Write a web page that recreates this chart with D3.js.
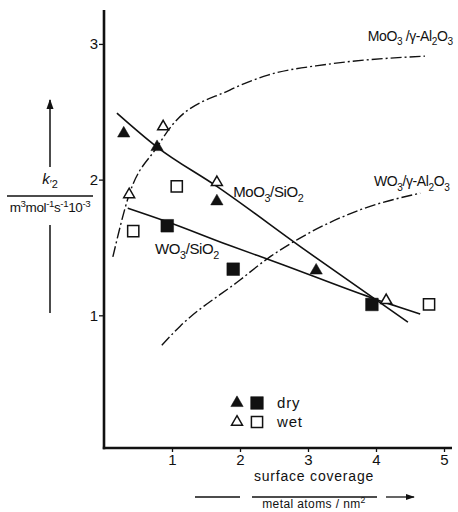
<!DOCTYPE html>
<html>
<head>
<meta charset="utf-8">
<script src="https://cdn.jsdelivr.net/npm/d3@7"></script>
<style>
  body { margin: 0; background: #fff; }
  svg { display: block; }
  text { font-family: "Liberation Sans", Arial, sans-serif; fill: #111; }
</style>
</head>
<body>
<div id="graph"></div>
<script>
// data (x: metal atoms / nm², y: k'2 / 10^-3 m3 mol-1 s-1)
const moDry = [[0.29, 2.34], [0.78, 2.24], [1.66, 1.84], [3.12, 1.33]];
const moWet = [[0.37, 1.89], [0.87, 2.39], [1.66, 1.98], [4.15, 1.11]];
const wDry = [[0.93, 1.66], [1.90, 1.34], [3.94, 1.08]];
const wWet = [[0.43, 1.62], [1.07, 1.95], [4.78, 1.08]];

const moSiO2Curve = [[0.19, 2.49], [0.78, 2.24], [1.66, 1.95], [2.96, 1.48], [4.47, 0.95]];
const wSiO2Curve = [[0.35, 1.79], [0.93, 1.69], [1.82, 1.52], [2.59, 1.38], [3.93, 1.13], [4.65, 1.01]];
const moAlCurve = [[0.13, 1.43], [0.37, 1.89], [0.78, 2.24], [1.00, 2.40], [1.85, 2.66], [2.41, 2.77], [3.29, 2.85], [4.72, 2.91]];
const wAlCurve = [[0.85, 0.78], [1.12, 0.92], [2.00, 1.26], [2.41, 1.42], [2.85, 1.56], [3.78, 1.78], [4.65, 1.90]];

const xTicks = [1, 2, 3, 4, 5];
const yTicks = [1, 2, 3];

const curveLabels = [
  {text: "MoO_3/SiO_2", x: 1.90, y: 1.87, size: 15},
  {text: "WO_3/SiO_2", x: 0.75, y: 1.45, size: 15},
  {text: "MoO_3 /γ-Al_2O_3", x: 3.88, y: 3.02, size: 14},
  {text: "WO_3/γ-Al_2O_3", x: 3.97, y: 1.95, size: 14}
];

const width = 458, height = 512;
const x = d3.scaleLinear().domain([0, 5]).range([104, 444]);
const y = d3.scaleLinear().domain([0, 3.25]).range([451, 10]);
const axisY = 448;

const svg = d3.select("#graph").append("svg")
  .attr("width", width).attr("height", height);

// rich text: _x subscript, ^x superscript, {..} groups
function rich(sel, s, size) {
  const re = /([_^])(\{[^}]*\}|.)|([^_^]+)/g;
  let m, shift = 0;
  while ((m = re.exec(s))) {
    if (m[3]) {
      sel.append("tspan").attr("dy", -shift).style("font-size", size + "px").text(m[3]);
      shift = 0;
    } else {
      const t = m[2].replace(/[{}]/g, "");
      const d = m[1] === "_" ? size * 0.3 : -size * 0.38;
      sel.append("tspan").attr("dy", d - shift).style("font-size", (size * 0.72) + "px").text(t);
      shift = d;
    }
  }
}

svg.append("defs").append("marker")
  .attr("id", "arr").attr("viewBox", "0 0 10 10").attr("refX", 9).attr("refY", 5)
  .attr("markerWidth", 7).attr("markerHeight", 7).attr("orient", "auto-start-reverse")
  .append("path").attr("d", "M0,1.5L10,5L0,8.5z").attr("fill", "#111");

// axes
const yAxis = d3.axisLeft(y).tickValues(yTicks).tickSize(5).tickFormat(d3.format("d"));
const gy = svg.append("g").attr("transform", `translate(${x(0)},0)`).call(yAxis);
gy.select(".domain").remove();
gy.selectAll(".tick line").attr("stroke", "#111").attr("stroke-width", 1.3);
gy.selectAll(".tick text").attr("x", -6).style("font-size", "15px")
  .style("font-family", "Liberation Sans, Arial, sans-serif").attr("fill", "#111");

const xAxis = d3.axisBottom(x).tickValues(xTicks).tickSize(4).tickFormat(d3.format("d"));
const gx = svg.append("g").attr("transform", `translate(0,${axisY})`).call(xAxis);
gx.select(".domain").remove();
gx.selectAll(".tick line").attr("stroke", "#111").attr("stroke-width", 1.3);
gx.selectAll(".tick text").attr("y", 6).style("font-size", "15px")
  .style("font-family", "Liberation Sans, Arial, sans-serif").attr("fill", "#111");

svg.append("line").attr("x1", x(0)).attr("x2", x(0)).attr("y1", y(3.25)).attr("y2", axisY + 1.2)
  .attr("stroke", "#111").attr("stroke-width", 2.6);
svg.append("line").attr("x1", x(0) - 1.2).attr("x2", 452).attr("y1", axisY).attr("y2", axisY)
  .attr("stroke", "#111").attr("stroke-width", 2.6);

// curves
const line = d3.line().x(d => x(d[0])).y(d => y(d[1])).curve(d3.curveMonotoneX);
[moSiO2Curve, wSiO2Curve].forEach(c => svg.append("path").attr("d", line(c))
  .attr("fill", "none").attr("stroke", "#111").attr("stroke-width", 1.6));
[moAlCurve, wAlCurve].forEach(c => svg.append("path").attr("d", line(c))
  .attr("fill", "none").attr("stroke", "#111").attr("stroke-width", 1.4)
  .attr("stroke-dasharray", "11,3,2,3"));

// markers
const tri = d3.symbol(d3.symbolTriangle, 66);
const triOpen = d3.symbol(d3.symbolTriangle, 52);
const sq = d3.symbol(d3.symbolSquare, 160);
const sqOpen = d3.symbol(d3.symbolSquare, 125);
function marks(data, sym, filled) {
  svg.append("g").selectAll("path").data(data).join("path")
    .attr("d", sym)
    .attr("transform", d => `translate(${x(d[0])},${y(d[1])})`)
    .attr("fill", filled ? "#111" : "#fff")
    .attr("stroke", "#111").attr("stroke-width", filled ? 0.5 : 1.5);
}
marks(moWet, triOpen, false);
marks(wWet, sqOpen, false);
marks(moDry, tri, true);
marks(wDry, sq, true);

// curve labels
curveLabels.forEach(l => {
  const t = svg.append("text").attr("x", x(l.x)).attr("y", y(l.y)).style("letter-spacing", "-0.4px");
  rich(t, l.text, l.size);
});

// legend
const legend = [{y: 403, filled: true, label: "dry"}, {y: 422, filled: false, label: "wet"}];
legend.forEach(r => {
  svg.append("path").attr("d", r.filled ? tri : triOpen).attr("transform", `translate(237,${r.y})`)
    .attr("fill", r.filled ? "#111" : "#fff").attr("stroke", "#111").attr("stroke-width", r.filled ? 0.5 : 1.5);
  svg.append("path").attr("d", r.filled ? sq : sqOpen).attr("transform", `translate(257,${r.y})`)
    .attr("fill", r.filled ? "#111" : "#fff").attr("stroke", "#111").attr("stroke-width", r.filled ? 0.5 : 1.5);
  svg.append("text").attr("x", 277).attr("y", r.y + 5).style("font-size", "15px")
    .style("letter-spacing", "0.8px").text(r.label);
});

// y label
svg.append("line").attr("x1", 50).attr("x2", 50).attr("y1", 167).attr("y2", 100)
  .attr("stroke", "#111").attr("stroke-width", 1.5).attr("marker-end", "url(#arr)");
const kt = svg.append("text").attr("x", 50).attr("y", 184).attr("text-anchor", "middle");
kt.append("tspan").style("font-size", "15px").style("font-style", "italic").text("k");
kt.append("tspan").attr("dy", 4).style("font-size", "11px").text("′2");
svg.append("line").attr("x1", 7).attr("x2", 93).attr("y1", 196).attr("y2", 196)
  .attr("stroke", "#111").attr("stroke-width", 1.5);
const ut = svg.append("text").attr("x", 50).attr("y", 212).attr("text-anchor", "middle")
  .style("letter-spacing", "-0.4px");
rich(ut, "m^3mol^{-1}s^{-1}10^{-3}", 13.5);
svg.append("line").attr("x1", 50).attr("x2", 50).attr("y1", 225).attr("y2", 313)
  .attr("stroke", "#111").attr("stroke-width", 1.5);

// x label
svg.append("text").attr("x", 314).attr("y", 481).attr("text-anchor", "middle")
  .style("font-size", "14px").style("letter-spacing", "0.8px").text("surface coverage");
svg.append("line").attr("x1", 195).attr("x2", 240).attr("y1", 497).attr("y2", 497)
  .attr("stroke", "#111").attr("stroke-width", 1.5);
svg.append("line").attr("x1", 252).attr("x2", 377).attr("y1", 497).attr("y2", 497)
  .attr("stroke", "#111").attr("stroke-width", 1.5);
svg.append("line").attr("x1", 386).attr("x2", 414).attr("y1", 497).attr("y2", 497)
  .attr("stroke", "#111").attr("stroke-width", 1.3).attr("marker-end", "url(#arr)");
const mt = svg.append("text").attr("x", 314).attr("y", 508).attr("text-anchor", "middle")
  .style("letter-spacing", "0.4px");
rich(mt, "metal atoms / nm^2", 12);
</script>
</body>
</html>
